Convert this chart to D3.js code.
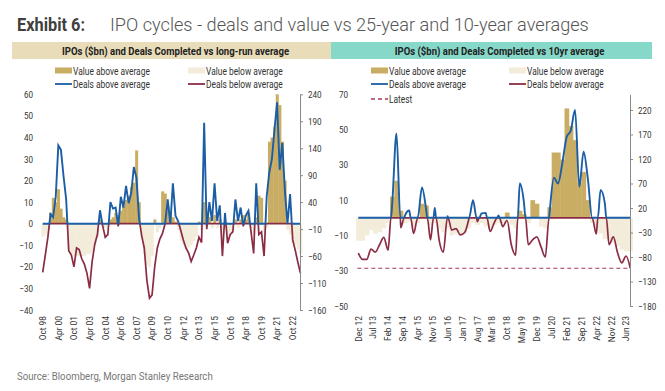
<!DOCTYPE html>
<html>
<head>
<meta charset="utf-8">
<script src="https://cdn.jsdelivr.net/npm/d3@7"></script>
<style>
body { margin: 0; background: #fff; }
text { font-family: Roboto, "Liberation Sans", sans-serif; fill: #333; }
.exhibit { font-size: 19px; font-weight: bold; fill: #404040; }
.title { font-weight: 300; font-size: 19px; fill: #555; }
.header { font-size: 11px; font-weight: bold; fill: #222; }
.legend { font-size: 10.5px; fill: #333; }
.axis path, .axis line { stroke: #8a8a8a; }
.axis text { font-size: 9.5px; fill: #333; font-family: Roboto, sans-serif; }
.xlabel { font-size: 9.5px; fill: #333; }
.source { font-size: 11px; fill: #777; }
</style>
</head>
<body>
<script>
// long-run panel, one reading per quarter starting Oct 98
const longStart = "1998-10";
const longValue = [-6, -5, -3, 5, 12, 10, 16, 7, 3, 2,
    -12, -14, -15, -15, -15, -15, -15, -14, -14, -13,
    -10, -6, 2, -1, -2, 0, 2, 3, 5, 4,
    6, 8, 11, 13, 17, 19, 34, 10, -6, -14,
    -19, -20, -15, 2, -4, -2, 15, 14, 8, 4,
    3, 1, -3, -8, -10, -12, -11, -10, -8, -6,
    1, -3, 10, 2, 3, -2, 4, -2, 2, -6,
    -2, -8, -4, -3, 2, -2, 2, 4, 2, 5,
    -2, -5, 3, 13, 12, -4, -2, 38, 40, 45,
    60, 55, 38, 20, -3, -5, -9, -10, -12, -14];
const longDeals = [-90, -58, -25, 18, 12, 50, 145, 137, 88, 45,
    -50, -58, -80, -45, -48, -65, -75, -92, -120, -70,
    -38, -20, 25, -3, -25, -20, 40, 28, 30, -5,
    50, 30, 70, 38, 57, 105, 85, 10, -22, -45,
    -105, -138, -132, -80, -45, -28, -18, 0, 45, 0,
    75, 15, 5, -12, -30, -45, -54, -70, -58, -45,
    -25, -35, 187, -10, 40, 5, 75, 5, 34, -60,
    20, -36, -20, -15, 45, 5, 30, -5, 15, 24,
    -15, -55, 75, -20, -15, -60, 50, 95, 120, 175,
    225, 100, 150, 60, 0, 55, -30, -50, -72, -92];
const longTicks = ["Oct 98", "Apr 00", "Oct 01", "Apr 03", "Oct 04", "Apr 06", "Oct 07", "Apr 09",
    "Oct 10", "Apr 12", "Oct 13", "Apr 15", "Oct 16", "Apr 18", "Oct 19", "Apr 21", "Oct 22"];
const longValueTicks = [-40, -30, -20, -10, 0, 10, 20, 30, 40, 50, 60];
const longDealTicks = [-160, -110, -60, -10, 40, 90, 140, 190, 240];

// 10yr panel, one reading every two months starting Dec 12
const shortStart = "2012-12";
const shortValue = [-13, -13, -10, -7, -9, -8, -6, -3, 12, 21,
    4, -3, -2, -5, -3, 8, 7, -4, -3, -6,
    -8, -6, -10, -9, -10, -8, -6, -3, -4, -3,
    -5, -6, -4, -3, -3, 3, -4, -6, 4, 2,
    -3, 10, 8, -5, -6, 6, 37, 37, 33, 62,
    52, 44, 20, 26, 10, -3, -6, -9, -12, -13,
    -14, -16, -18, -19, -19];
const shortDeals = [-72, -85, -85, -64, -70, -55, -40, -66, 30, 172,
    -20, 5, 15, -32, 0, 62, 15, -45, 20, -45,
    -70, 3, -25, -22, -35, -30, -3, 36, -8, 9,
    10, -28, -10, 5, -18, -5, -55, -76, 70, 30,
    -55, -45, -39, -60, -80, 10, 82, 70, 112, 165,
    178, 220, 63, 135, 80, 0, -33, 57, 30, -55,
    -39, -72, -92, -78, -103];
const shortTicks = ["Dec 12", "Jul 13", "Feb 14", "Sep 14", "Apr 15", "Nov 15", "Jun 16", "Jan 17",
    "Aug 17", "Mar 18", "Oct 18", "May 19", "Dec 19", "Jul 20", "Feb 21", "Sep 21", "Apr 22",
    "Nov 22", "Jun 23"];
const shortValueTicks = [-50, -30, -10, 10, 30, 50, 70];
const shortDealTicks = [-180, -130, -80, -30, 20, 70, 120, 170, 220];
const shortLatest = -103;

const legendLabels = ["Value above average", "Value below average", "Deals above average", "Deals below average", "Latest"];

let gold = "#c9ad64";
let beige = "#f3ecdb";
let blue = "#1b5ea6";
let red = "#8a2c44";

// squeeze factor to get a condensed look out of Roboto
let narrow = 0.8;

let parseMonth = d3.timeParse("%Y-%m");
let parseTick = d3.timeParse("%b %y");

let svg = d3.select("body")
    .append("svg")
    .attr("width", 665)
    .attr("height", 391);

// text drawn at (x, y) and squeezed horizontally
function label(cls, x, y, str, k, anchor) {
    return svg.append("text")
        .attr("class", cls)
        .attr("transform", "translate(" + x + ", " + y + ") scale(" + k + ", 1)")
        .attr("text-anchor", anchor || "start")
        .text(str);
}

// title
label("exhibit", 17, 31, "Exhibit 6:", 0.86);
label("title", 110, 31, "IPO cycles - deals and value vs 25-year and 10-year averages", 0.955);

// add a zero point where the deals line changes sign, so the two colours meet cleanly
function splitAtZero(rows) {
    let out = [];
    rows.forEach((p, i) => {
        if (i > 0) {
            let a = rows[i - 1];
            if ((a.deals < 0 && p.deals > 0) || (a.deals > 0 && p.deals < 0)) {
                let t = a.deals / (a.deals - p.deals);
                out.push({ date: new Date(+a.date + t * (p.date - a.date)), deals: 0 });
            }
        }
        out.push(p);
    });
    return out;
}

function legendItem(type, x, y, text) {
    if (type == "gold" || type == "beige") {
        svg.append("rect")
            .attr("x", x).attr("y", y - 3.5)
            .attr("width", 17).attr("height", 6)
            .attr("fill", type == "gold" ? gold : beige);
    } else {
        svg.append("line")
            .attr("x1", x).attr("x2", x + 17)
            .attr("y1", y).attr("y2", y)
            .attr("stroke", type == "blue" ? blue : (type == "latest" ? "#a83a58" : red))
            .attr("stroke-width", type == "latest" ? 1.3 : 1.8)
            .attr("stroke-dasharray", type == "latest" ? "4,3" : null);
    }
    label("legend", x + 18, y + 3.7, text, narrow);
}

function drawPanel(p) {
    let start = parseMonth(p.start);
    let rows = p.value.map((v, i) => ({
        date: d3.timeMonth.offset(start, i * p.step),
        value: v,
        deals: p.deals[i]
    }));

    let x = d3.scaleTime().domain(d3.extent(rows, d => d.date)).range([p.x0, p.x1]);
    let yV = d3.scaleLinear().domain(p.vDomain).range([p.bottom, p.top]);
    let yD = d3.scaleLinear().domain(p.dDomain).range([p.bottom, p.top]);
    let barW = x(rows[1].date) - x(rows[0].date);

    // header band
    svg.append("rect")
        .attr("x", p.hx).attr("y", 42)
        .attr("width", p.hw).attr("height", 17)
        .attr("fill", p.hcolor);
    label("header", p.hx + p.hw / 2 + p.hshift, 54.5, p.header, 0.87, "middle");

    // value above / below average
    svg.append("g")
        .selectAll("rect")
        .data(rows)
        .join("rect")
        .attr("x", d => x(d.date) - barW / 2)
        .attr("width", barW + 0.4)
        .attr("y", d => yV(Math.max(d.value, 0)))
        .attr("height", d => Math.abs(yV(d.value) - yV(0)))
        .attr("fill", d => d.value > 0 ? gold : beige);

    if (p.latest !== undefined) {
        svg.append("line")
            .attr("x1", p.x0 - 1).attr("x2", p.axisX)
            .attr("y1", yD(p.latest)).attr("y2", yD(p.latest))
            .attr("stroke", "#a83a58")
            .attr("stroke-width", 1.2)
            .attr("stroke-dasharray", "4,3");
    }

    // deals below / above average
    let pts = splitAtZero(rows);
    let line = d3.line().x(d => x(d.date)).curve(p.curve);
    svg.append("path")
        .datum(pts)
        .attr("fill", "none")
        .attr("stroke", red)
        .attr("stroke-width", 1.7)
        .attr("d", line.y(d => yD(Math.min(d.deals, 0))));
    svg.append("path")
        .datum(pts)
        .attr("fill", "none")
        .attr("stroke", blue)
        .attr("stroke-width", 1.9)
        .attr("d", line.y(d => yD(Math.max(d.deals, 0))));

    // right axis (deals)
    svg.append("g")
        .attr("class", "axis")
        .attr("transform", "translate(" + p.axisX + ", 0)")
        .call(d3.axisRight(yD).tickValues(p.dTicks).tickSize(3).tickSizeOuter(0).tickPadding(5))
        .call(g => g.selectAll("text").attr("x", 8 / 0.85).attr("transform", "scale(0.85, 1)"));

    // left labels (value)
    svg.append("g")
        .attr("class", "axis")
        .attr("transform", "translate(" + p.labelX + ", 0)")
        .call(d3.axisLeft(yV).tickValues(p.vTicks).tickSize(0).tickPadding(0))
        .call(g => g.select(".domain").remove())
        .call(g => g.selectAll("text").attr("x", 0).attr("transform", "scale(0.85, 1)"));

    // rotated month labels
    svg.append("g")
        .selectAll("text")
        .data(p.ticks)
        .join("text")
        .attr("class", "xlabel")
        .attr("transform", d => "translate(" + x(parseTick(d)) + ", 316) rotate(-90) scale(0.88, 1)")
        .attr("text-anchor", "end")
        .attr("dy", "0.35em")
        .text(d => d);

    legendItem("gold", p.lx1, 71, legendLabels[0]);
    legendItem("beige", p.lx2, 71, legendLabels[1]);
    legendItem("blue", p.lx1, 84, legendLabels[2]);
    legendItem("red", p.lx2, 84, legendLabels[3]);
    if (p.latest !== undefined) legendItem("latest", p.lx1, 99, legendLabels[4]);
}

drawPanel({
    start: longStart, step: 3, value: longValue, deals: longDeals,
    ticks: longTicks, vTicks: longValueTicks, dTicks: longDealTicks,
    vDomain: [-40, 60], dDomain: [-160, 240],
    x0: 42.7, x1: 300.5, axisX: 300, labelX: 33, top: 94.3, bottom: 310,
    curve: d3.curveLinear,
    hx: 12, hw: 319, hcolor: "#e9ddb9", hshift: 4,
    header: "IPOs ($bn) and Deals Completed vs long-run average",
    lx1: 55, lx2: 188
});

drawPanel({
    start: shortStart, step: 2, value: shortValue, deals: shortDeals,
    ticks: shortTicks, vTicks: shortValueTicks, dTicks: shortDealTicks,
    vDomain: [-50, 70], dDomain: [-180, 252],
    x0: 358.3, x1: 630.3, axisX: 630, labelX: 348, top: 94.3, bottom: 306,
    curve: d3.curveMonotoneX,
    hx: 331, hw: 321, hcolor: "#86d9c8", hshift: 8,
    header: "IPOs ($bn) and Deals Completed vs 10yr average",
    latest: shortLatest,
    lx1: 371, lx2: 509
});

label("source", 17, 380, "Source: Bloomberg, Morgan Stanley Research", 0.88);
</script>
</body>
</html>
